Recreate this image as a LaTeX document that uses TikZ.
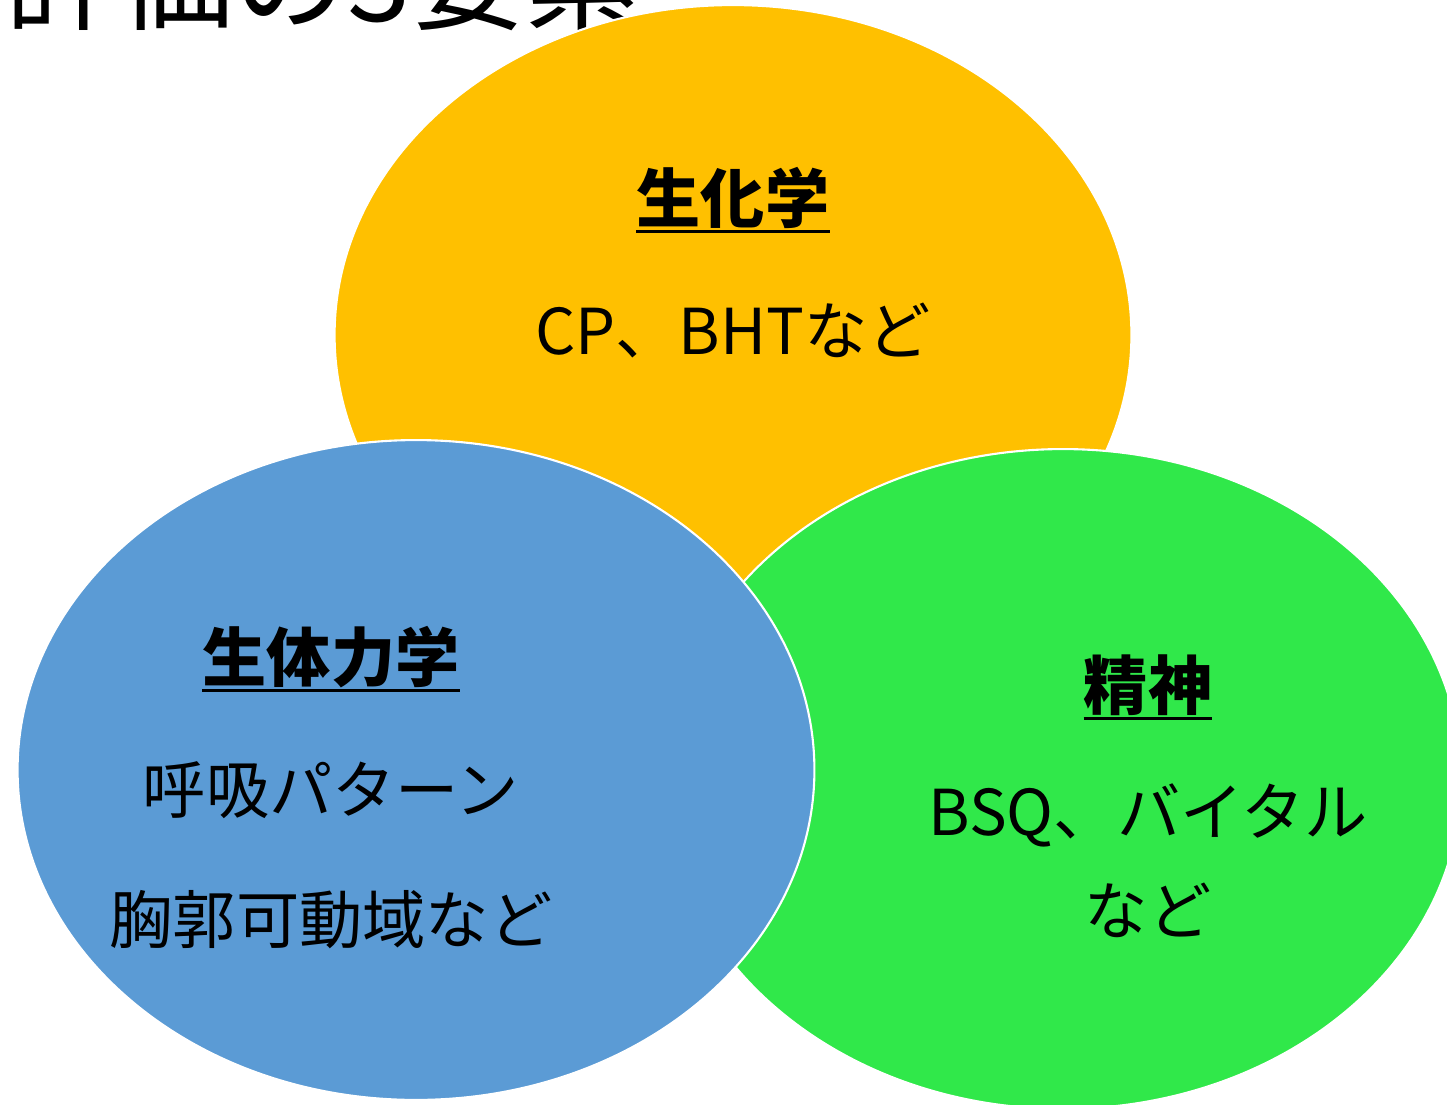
\documentclass[tikz,border=0pt]{standalone}
\usepackage{fontspec}
\setmainfont{Noto Sans CJK JP}
\usetikzlibrary{shapes.geometric}
\definecolor{cyellow}{HTML}{FFC000}
\definecolor{cblue}{HTML}{5B9BD5}
\definecolor{cgreen}{HTML}{30E84A}
\tikzset{
  blob/.style={ellipse, draw=white, line width=1.2pt, inner sep=0pt,
    minimum width=15.94cm, minimum height=13.2cm},
  head/.style={font=\fontsize{36.5}{40}\selectfont\bfseries, inner sep=0pt},
  body/.style={font=\fontsize{36}{40}\selectfont, inner sep=0pt, align=center},
  uline/.style={line width=1.7pt, black},
}
\begin{document}
\begin{tikzpicture}[x=0.02cm, y=-0.02cm]
\useasboundingbox (0,0) rectangle (1447,1105);
\clip (0,0) rectangle (1447,1105);
\node[anchor=base west, inner sep=0pt, font=\fontsize{65}{70}\selectfont] (title) at (5,22) {評価の3要素};
\node[blob, fill=cyellow] (yel) at (733,335) {};
\node[blob, fill=cgreen] (grn) at (1063,779) {};
\node[blob, fill=cblue] (blu) at (416,770) {};
\node[head] (h1) at (733,198) {生化学};
\draw[uline] ([yshift=-1.5pt]h1.south west) -- ([yshift=-1.5pt]h1.south east);
\node[body] (b1) at (733,330) {CP、BHTなど};
\node[head] (h2) at (331,657) {生体力学};
\draw[uline] ([yshift=-1.5pt]h2.south west) -- ([yshift=-1.5pt]h2.south east);
\node[body] (b2) at (331,790) {呼吸パターン};
\node[body] (b3) at (331,920) {胸郭可動域など};
\node[head] (h3) at (1148,685) {精神};
\draw[uline] ([yshift=-1.5pt]h3.south west) -- ([yshift=-1.5pt]h3.south east);
\node[body] (b4) at (1148,815) {BSQ、バイタル};
\node[body] (b5) at (1148,910) {など};
\end{tikzpicture}
\end{document}
